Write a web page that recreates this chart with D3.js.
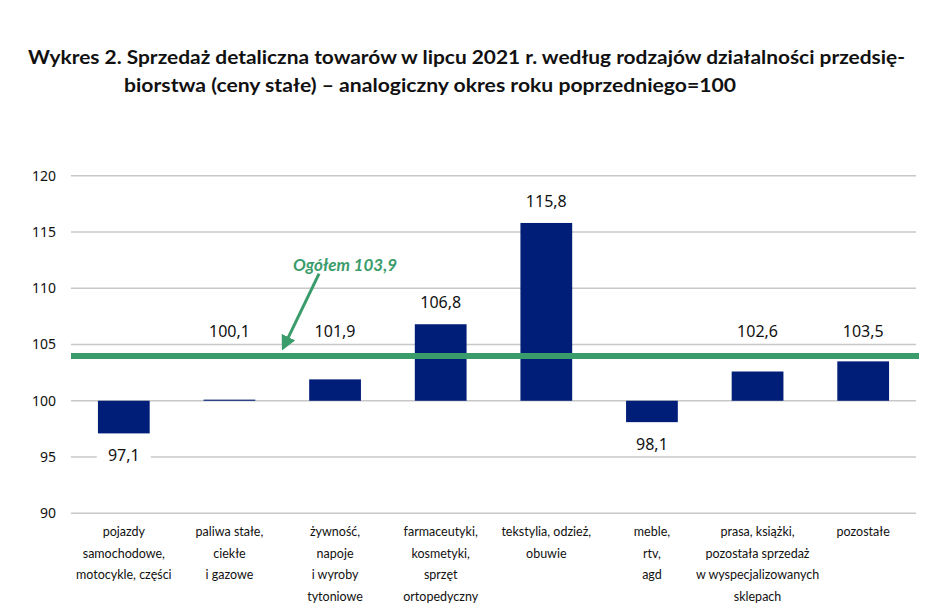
<!DOCTYPE html>
<html>
<head>
<meta charset="utf-8">
<script src="https://cdn.jsdelivr.net/npm/d3@7"></script>
<style>
    body { margin: 0; background: #fff; }
    svg { display: block; }
</style>
</head>
<body>
<div id="chart"></div>
<script>
// dane z wykresu
const categories = [
    ['pojazdy', 'samochodowe,', 'motocykle, części'],
    ['paliwa stałe,', 'ciekłe', 'i gazowe'],
    ['żywność,', 'napoje', 'i wyroby', 'tytoniowe'],
    ['farmaceutyki,', 'kosmetyki,', 'sprzęt', 'ortopedyczny'],
    ['tekstylia, odzież,', 'obuwie'],
    ['meble,', 'rtv,', 'agd'],
    ['prasa, książki,', 'pozostała sprzedaż', 'w wyspecjalizowanych', 'sklepach'],
    ['pozostałe']
];
const values = [97.1, 100.1, 101.9, 106.8, 115.8, 98.1, 102.6, 103.5];
const total = 103.9;
const yTicks = [90, 95, 100, 105, 110, 115, 120];
const titleLines = [
    'Wykres 2. Sprzedaż detaliczna towarów w lipcu 2021 r. według rodzajów działalności przedsię-',
    'biorstwa (ceny stałe) – analogiczny okres roku poprzedniego=100'
];
const totalLabel = 'Ogółem 103,9';

const width = 948, height = 613;
const margin = {left: 71, right: 32, top: 176, bottom: 100};
const barColor = '#001d77',
    green = '#3a9c6b',
    gridColor = '#c8c8c8';

const fmt = v => d3.format('.1f')(v).replace('.', ',');

let svg = d3.select('#chart')
    .append('svg')
    .attr('width', width)
    .attr('height', height);

// tytuł
svg.selectAll('text.title')
    .data(titleLines)
    .enter()
    .append('text')
    .attr('class', 'title')
    .attr('x', (d, i) => i === 0 ? 28 : 124)
    .attr('y', (d, i) => i === 0 ? 64 : 91.5)
    .attr('textLength', (d, i) => i === 0 ? 877 : 612)
    .attr('lengthAdjust', 'spacingAndGlyphs')
    .style('font-family', 'Lato, "Open Sans", sans-serif')
    .style('font-weight', 'bold')
    .style('font-size', '19px')
    .style('fill', '#111')
    .text(d => d);

let xScale = d3.scaleBand()
    .domain(d3.range(categories.length))
    .range([margin.left, width - margin.right])
    .paddingInner(0.51)
    .paddingOuter(0.255);
let yScale = d3.scaleLinear()
    .domain([90, 120])
    .range([513.3, 175.7]);

// linie siatki
svg.append('g')
    .selectAll('line')
    .data(yTicks)
    .enter()
    .append('line')
    .attr('x1', margin.left)
    .attr('x2', width - margin.right)
    .attr('y1', d => yScale(d))
    .attr('y2', d => yScale(d))
    .attr('stroke', gridColor)
    .attr('stroke-width', 1.5);

let yAxis = svg.append('g')
    .attr('transform', 'translate(' + (margin.left - 15) + ',0)')
    .call(d3.axisLeft(yScale).tickValues(yTicks).tickSize(0).tickPadding(0));
yAxis.select('.domain').remove();
yAxis.selectAll('text')
    .style('font-family', '"Noto Sans", sans-serif')
    .style('font-size', '14px')
    .style('fill', '#111');

// słupki
svg.append('g')
    .selectAll('rect')
    .data(values)
    .enter()
    .append('rect')
    .attr('x', (d, i) => xScale(i))
    .attr('width', xScale.bandwidth())
    .attr('y', d => yScale(Math.max(d, 100)))
    .attr('height', d => Math.abs(yScale(d) - yScale(100)))
    .attr('fill', barColor);

// linia "ogółem"
svg.append('line')
    .attr('x1', margin.left)
    .attr('x2', width - margin.right + 3)
    .attr('y1', yScale(total) - 1)
    .attr('y2', yScale(total) - 1)
    .attr('stroke', green)
    .attr('stroke-width', 6);

// etykiety danych (z białym tłem na siatce)
function labelY(d) {
    if (d < 100) return yScale(d) + 22;
    return Math.min(yScale(d), yScale(total) - 4) - 22;
}
let labels = svg.append('g')
    .selectAll('g')
    .data(values)
    .enter()
    .append('g')
    .attr('transform', (d, i) => 'translate(' + (xScale(i) + xScale.bandwidth() / 2) + ',' + labelY(d) + ')');
labels.append('rect')
    .attr('x', -27)
    .attr('y', -11)
    .attr('width', 54)
    .attr('height', 22)
    .attr('fill', '#fff');
labels.append('text')
    .attr('text-anchor', 'middle')
    .attr('dy', '0.36em')
    .style('font-family', '"Noto Sans", sans-serif')
    .style('font-size', '16px')
    .style('fill', '#111')
    .text(d => fmt(d));

// podpisy kategorii
svg.append('g')
    .selectAll('text')
    .data(categories)
    .enter()
    .append('text')
    .attr('text-anchor', 'middle')
    .attr('x', (d, i) => xScale(i) + xScale.bandwidth() / 2)
    .attr('y', 536)
    .style('font-family', 'Lato, sans-serif')
    .style('font-size', '12.5px')
    .style('fill', '#111')
    .each(function(d) {
        let t = d3.select(this);
        d.forEach((line, j) => {
            t.append('tspan')
                .attr('x', t.attr('x'))
                .attr('dy', j === 0 ? 0 : 21.7)
                .text(line);
        });
    });

// adnotacja ze strzałką
svg.append('defs')
    .append('marker')
    .attr('id', 'arrowHead')
    .attr('viewBox', '0 0 10 10')
    .attr('refX', 8)
    .attr('refY', 5)
    .attr('markerWidth', 5)
    .attr('markerHeight', 5)
    .attr('orient', 'auto')
    .append('path')
    .attr('d', 'M0,0 L10,5 L0,10 z')
    .attr('fill', green);

let tipX = xScale(1) + xScale.step() - xScale.step() * xScale.paddingInner() / 2;
let startX = xScale(2) + xScale.bandwidth() / 2 - 16;
svg.append('line')
    .attr('x1', startX)
    .attr('y1', yScale(111.3))
    .attr('x2', tipX + 1)
    .attr('y2', yScale(total) - 9)
    .attr('stroke', green)
    .attr('stroke-width', 3)
    .attr('marker-end', 'url(#arrowHead)');
svg.append('text')
    .attr('x', startX + 26)
    .attr('y', yScale(111.5))
    .attr('text-anchor', 'middle')
    .style('font-family', 'Lato, sans-serif')
    .style('font-weight', 'bold')
    .style('font-style', 'italic')
    .style('font-size', '17px')
    .style('fill', green)
    .text(totalLabel);
</script>
</body>
</html>
